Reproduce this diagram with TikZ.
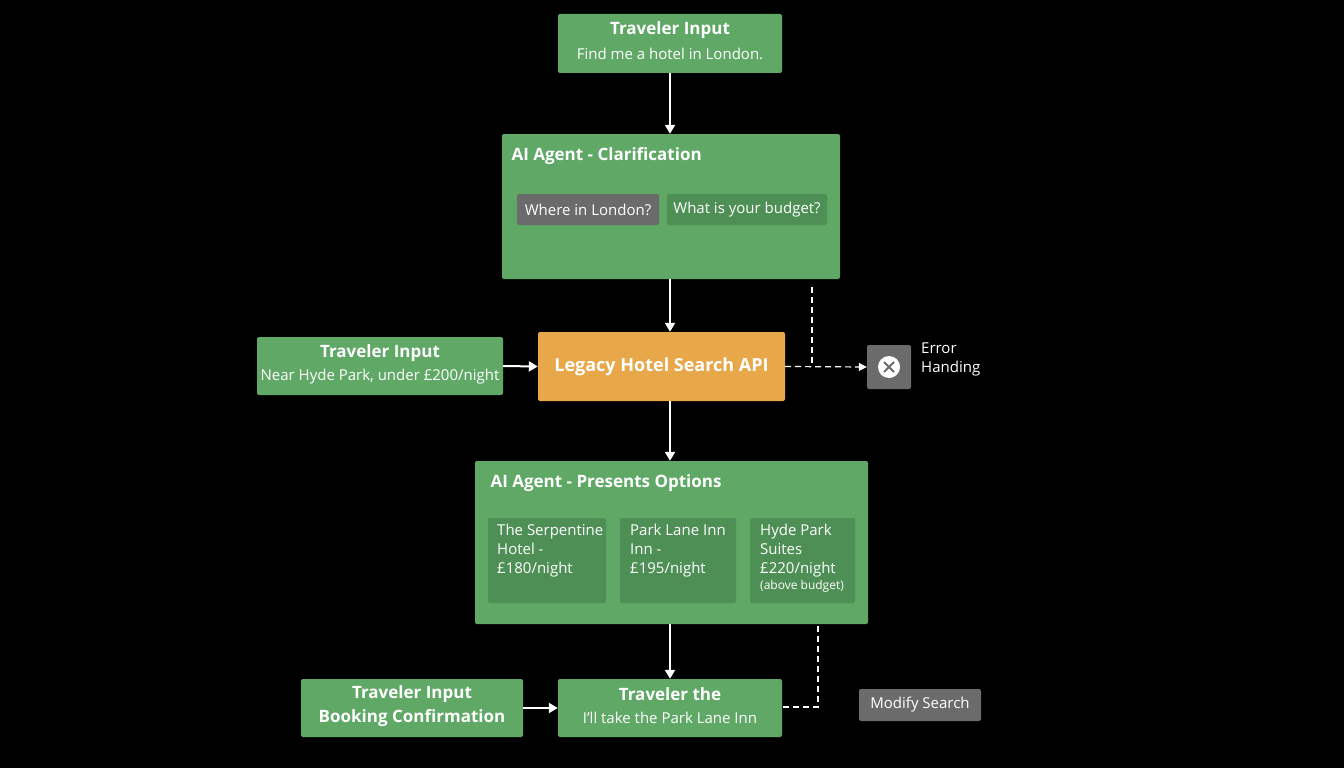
\documentclass[tikz,border=0pt]{standalone}
\usepackage{fontspec}
\setmainfont{Open Sans}
\usetikzlibrary{arrows.meta,calc}
\definecolor{gr}{HTML}{5FA866}
\definecolor{dg}{HTML}{4E8F55}
\definecolor{gy}{HTML}{6B6B6B}
\definecolor{org}{HTML}{E8A84A}
\tikzset{x=1pt,y=-1pt,
 box/.style={fill=gr,rounded corners=2pt,text=white,align=center,inner sep=0pt},
 sub/.style={fill=dg,rounded corners=2pt,text=white,inner sep=0pt},
 gbox/.style={fill=gy,rounded corners=2pt,text=white,inner sep=0pt},
 arr/.style={draw=white,line width=2pt,-{Triangle[length=9pt,width=10pt]}},
 dline/.style={draw=white,line width=1.2pt,dash pattern=on 6pt off 4pt},
 ttl/.style={text=white,font=\bfseries\fontsize{17}{20}\selectfont},
 bd/.style={text=white,font=\fontsize{15}{19}\selectfont}}
\begin{document}
\begin{tikzpicture}
\fill[black] (0,0) rectangle (1344,768);
\useasboundingbox (0,0) rectangle (1344,768);
% top
\node[box,minimum width=224,minimum height=59] (t) at (670,43.5) {};
\node[ttl] at (670,30) {Traveler Input};
\node[bd] at (670,54) {Find me a hotel in London.};
% clarification
\node[box,minimum width=338,minimum height=145] (c) at (671,206.5) {};
\node[ttl,anchor=west] at (508,156) {AI Agent - Clarification};
\node[gbox,minimum width=142,minimum height=31,bd] (c1) at (588,209.5) {Where in London?};
\node[sub,minimum width=160,minimum height=31,bd] (c2) at (747,209.5) {What is your budget?};
\draw[arr] (t.south) -- (c.north -| t.south);
% legacy
\node[fill=org,rounded corners=2pt,minimum width=247,minimum height=69,inner sep=0pt,text=white,font=\bfseries\fontsize{18}{20}\selectfont] (l) at (661.5,366.5) {Legacy Hotel Search API};
\draw[arr] (c.south -| 670,0) -- (l.north -| 670,0);
\node[box,minimum width=246,minimum height=58] (li) at (380,366) {};
\node[ttl] at (380,353) {Traveler Input};
\node[bd] at (380,377) {Near Hyde Park, under £200/night};
\draw[arr] (li.east) -- (l.west);
% error
\node[gbox,minimum width=44,minimum height=44] (e) at (889,367) {};
\fill[white] (e.center) circle (11);
\draw[gy,line width=2pt] ($(e.center)+(-5,-5)$) -- ($(e.center)+(5,5)$) ($(e.center)+(-5,5)$) -- ($(e.center)+(5,-5)$);
\node[bd,anchor=north west,align=left,inner sep=0pt] at (921,343) {Error\\Handing};
\coordinate (d1) at (812,287);
\coordinate (d2) at (812,366);
\draw[dline] (d1) -- (d2);
\draw[dline,-{Triangle[length=8pt,width=8pt]}] (l.east) -- (e.west);
% presents
\node[box,minimum width=393,minimum height=163] (p) at (671.5,542.5) {};
\node[ttl,anchor=west] at (487,483) {AI Agent - Presents Options};
\node[sub,minimum width=118,minimum height=85] (p1) at (547,560.5) {};
\node[sub,minimum width=116,minimum height=85] (p2) at (678,560.5) {};
\node[sub,minimum width=105,minimum height=85] (p3) at (802.5,560.5) {};
\node[bd,anchor=north west,align=left,inner sep=0pt] at (497,524) {The Serpentine\\Hotel -\\£180/night};
\node[bd,anchor=north west,align=left,inner sep=0pt] at (630,524) {Park Lane Inn\\Inn -\\£195/night};
\node[bd,anchor=north west,align=left,inner sep=0pt] at (760,524) {Hyde Park\\Suites\\£220/night\\[-3pt]{\fontsize{12}{14}\selectfont(above budget)}};
\draw[arr] (l.south -| 670,0) -- (p.north -| 670,0);
% bottom
\node[box,minimum width=224,minimum height=58] (b) at (670,708) {};
\node[ttl] at (670,694) {Traveler the};
\node[bd] at (670,718) {I'll take the Park Lane Inn};
\draw[arr] (p.south -| 670,0) -- (b.north -| 670,0);
\node[box,minimum width=222,minimum height=58] (bi) at (412,708) {};
\node[ttl] at (412,694) {Traveler Input};
\node[ttl] at (412,718) {Booking Confirmation};
\draw[arr] (bi.east) -- (b.west);
\coordinate (m1) at (818,626);
\coordinate (m2) at (818,707);
\draw[dline] (m1) -- (m2) -- (b.east |- m2);
\node[gbox,minimum width=122,minimum height=32,bd] (ms) at (920,705) {Modify Search};
\end{tikzpicture}
\end{document}
